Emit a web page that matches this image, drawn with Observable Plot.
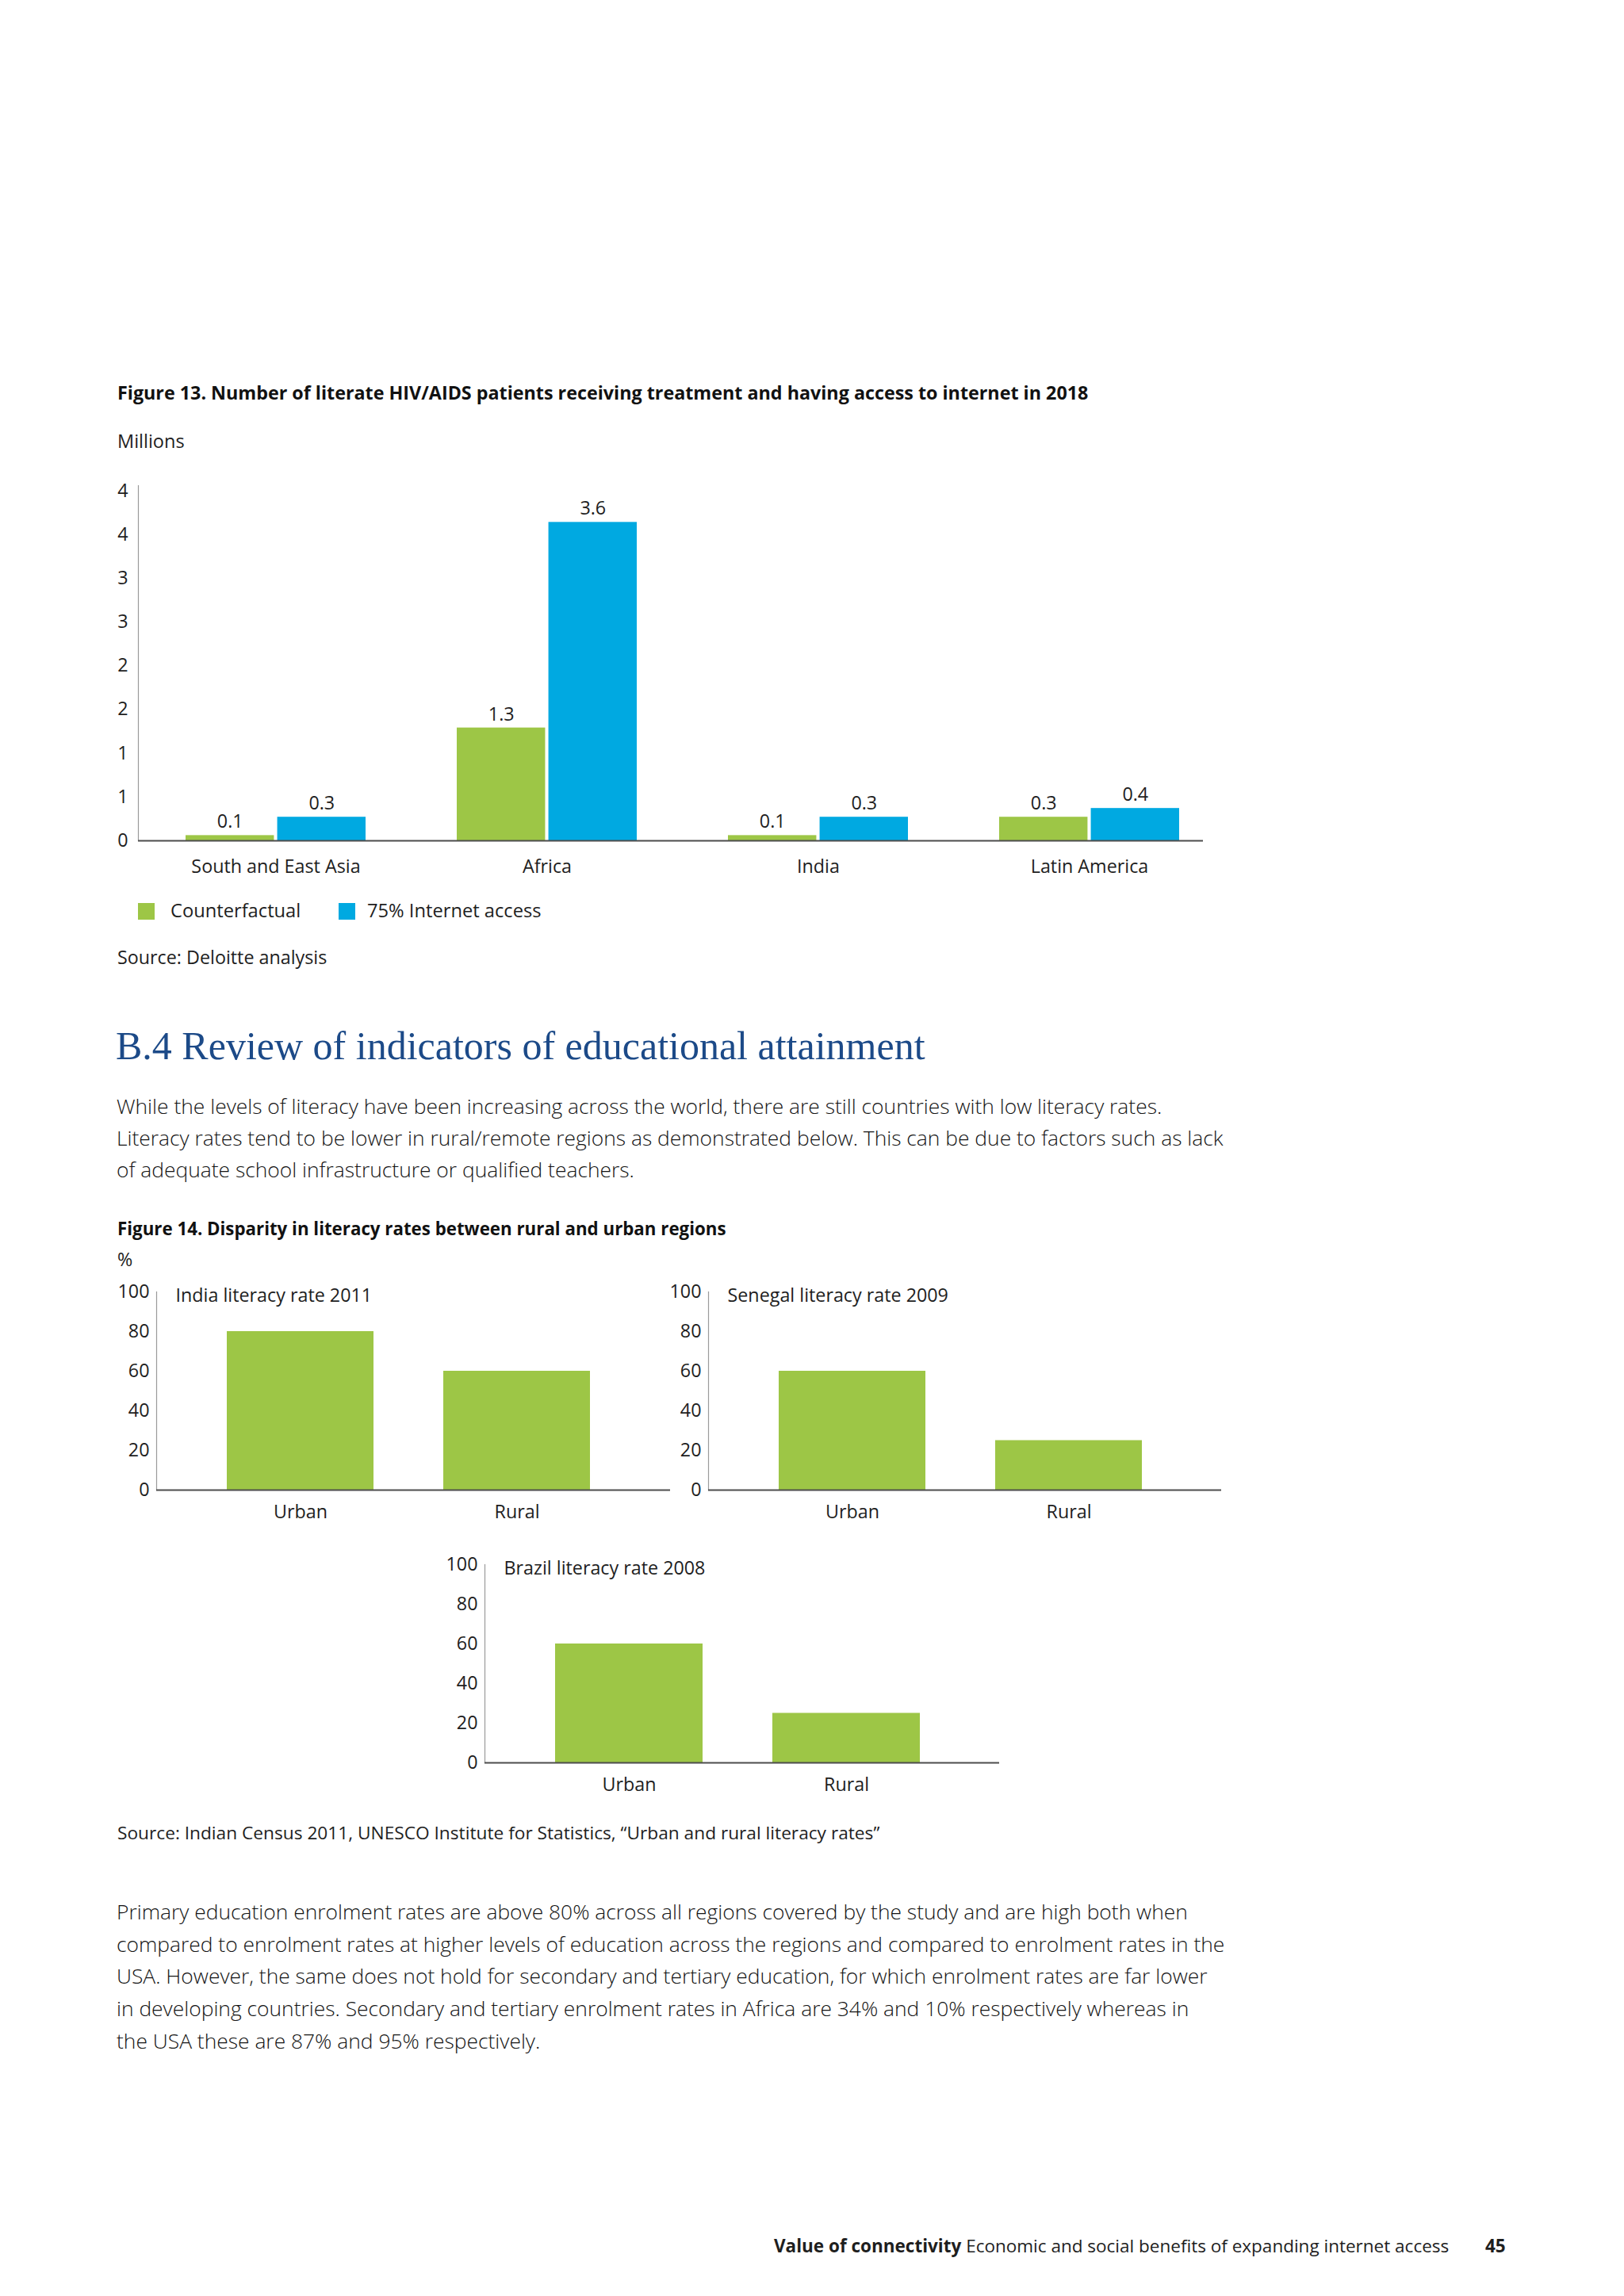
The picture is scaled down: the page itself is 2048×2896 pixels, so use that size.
<!DOCTYPE html>
<html>
<head>
<meta charset="utf-8">
<script src="https://cdn.jsdelivr.net/npm/d3@7"></script>
<script src="https://cdn.jsdelivr.net/npm/@observablehq/plot@0.6"></script>
<style>
html, body { margin: 0; padding: 0; background: #ffffff; }
#page { position: relative; width: 2048px; height: 2896px; background: #ffffff; overflow: hidden;
  font-family: "Open Sans", "Noto Sans", sans-serif; color: #1e1e1e; }
.t { position: absolute; white-space: nowrap; z-index: 2; }
.sq { position: absolute; z-index: 2; }
</style>
</head>
<body>
<div id="page"></div>
<script>
// ---------- Data ----------
const regions = ["South and East Asia", "Africa", "India", "Latin America"];
const seriesNames = ["Counterfactual", "75% Internet access"];
const counterfactual = [0.06, 1.29, 0.06, 0.27];
const internetAccess = [0.27, 3.64, 0.27, 0.37];
const yTicks13 = [0, 0.5, 1, 1.5, 2, 2.5, 3, 3.5, 4];

const literacyCategories = ["Urban", "Rural"];
const indiaLiteracy = [80, 60];
const senegalLiteracy = [60, 25];
const brazilLiteracy = [60, 25];
const yTicks14 = [0, 20, 40, 60, 80, 100];

// ---------- Styles ----------
const GREEN = "#9dc646";
const BLUE = "#00a9e1";
const AXIS_LIGHT = "#9a9a9a";
const AXIS_DARK = "#4d4d4d";
const FONT = '"Open Sans", "Noto Sans", sans-serif';
const CHART_FS = 23.3;

const page = document.getElementById("page");

function addText(str, x, y, size, opts = {}) {
  const d = document.createElement("div");
  d.className = "t";
  d.textContent = str;
  const lh = size * 1.2;
  d.style.left = x + "px";
  d.style.top = (y - size * (opts.serif ? 0.62 : 0.64)) + "px";
  d.style.fontSize = size + "px";
  d.style.lineHeight = lh + "px";
  if (opts.weight) d.style.fontWeight = opts.weight;
  if (opts.color) d.style.color = opts.color;
  if (opts.family) d.style.fontFamily = opts.family;
  page.appendChild(d);
  return d;
}
function addRich(parts, x, y, size) {
  const d = document.createElement("div");
  d.className = "t";
  d.style.left = x + "px";
  d.style.top = (y - size * 0.64) + "px";
  d.style.fontSize = size + "px";
  d.style.lineHeight = size * 1.2 + "px";
  for (const p of parts) {
    const s = document.createElement("span");
    s.textContent = p.text;
    if (p.weight) s.style.fontWeight = p.weight;
    d.appendChild(s);
  }
  page.appendChild(d);
}
function addSquare(x, y, w, h, color) {
  const d = document.createElement("div");
  d.className = "sq";
  Object.assign(d.style, { left: x + "px", top: y + "px", width: w + "px", height: h + "px", background: color });
  page.appendChild(d);
}
function place(svg, left, top) {
  svg.style.position = "absolute";
  svg.style.left = left + "px";
  svg.style.top = top + "px";
  svg.style.maxWidth = "none";
  svg.style.zIndex = 1;
  page.appendChild(svg);
}

// ---------- Figure 13 ----------
addText("Figure 13. Number of literate HIV/AIDS patients receiving treatment and having access to internet in 2018", 148, 497, 23.3, { weight: 700, color: "#111" });
addText("Millions", 148, 557, 23.5);

const F13 = { left: 174, right: 1517, top: 612, bottom: 1060 };
const svgTop13 = 560, svgH13 = 600;
const xOpts13 = { paddingInner: 0.336, paddingOuter: 0.131, align: 0.67 };
const bw13 = d3.scaleBand().domain(regions).range([F13.left, F13.right])
  .paddingInner(xOpts13.paddingInner).paddingOuter(xOpts13.paddingOuter).align(xOpts13.align).bandwidth();
const rows13 = regions.map((r, i) => ({ region: r, counterfactual: counterfactual[i], internet: internetAccess[i] }));

const fig13 = Plot.plot({
  width: 2048,
  height: svgH13,
  marginLeft: F13.left,
  marginRight: 2048 - F13.right,
  marginTop: F13.top - svgTop13,
  marginBottom: svgTop13 + svgH13 - F13.bottom,
  style: { fontFamily: FONT, fontSize: CHART_FS + "px", color: "#1e1e1e", background: "transparent" },
  x: { domain: regions, ...xOpts13 },
  y: { domain: [0, 4.06] },
  marks: [
    Plot.barY(rows13, { x: "region", y: "counterfactual", fill: GREEN, insetRight: bw13 / 2 + 2 }),
    Plot.barY(rows13, { x: "region", y: "internet", fill: BLUE, insetLeft: bw13 / 2 + 2 }),
    Plot.text(rows13, { x: "region", y: "counterfactual", text: d => d.counterfactual.toFixed(1), dx: -(bw13 / 4 + 1), dy: -17, lineAnchor: "middle", fill: "#1e1e1e" }),
    Plot.text(rows13, { x: "region", y: "internet", text: d => d.internet.toFixed(1), dx: bw13 / 4 + 1, dy: -17, lineAnchor: "middle", fill: "#1e1e1e" }),
    Plot.axisY({ ticks: yTicks13, tickFormat: d => d.toFixed(0), tickSize: 0, tickPadding: 13, label: null }),
    Plot.axisX({ tickSize: 0, tickPadding: 24, label: null }),
    Plot.frame({ anchor: "left", stroke: AXIS_LIGHT, strokeWidth: 1.2 }),
    Plot.ruleY([0], { stroke: AXIS_DARK, strokeWidth: 2 })
  ]
});
place(fig13, 0, svgTop13);

// legend
addSquare(174, 1139, 21, 21, GREEN);
addText(seriesNames[0], 215, 1149, 23.7);
addSquare(427, 1139, 21, 21, BLUE);
addText(seriesNames[1], 463, 1149, 23.7);

addText("Source: Deloitte analysis", 148, 1209, 23.3, { weight: 500 });

// ---------- Section heading & paragraph ----------
addText("B.4 Review of indicators of educational attainment", 146, 1320, 50, { serif: true, family: '"Liberation Serif", "DejaVu Serif", serif', color: "#1c4a88" });

const para1 = [
  "While the levels of literacy have been increasing across the world, there are still countries with low literacy rates.",
  "Literacy rates tend to be lower in rural/remote regions as demonstrated below. This can be due to factors such as lack",
  "of adequate school infrastructure or qualified teachers."
];
const para1Y = [1397, 1437, 1477];
para1.forEach((s, i) => addText(s, 147, para1Y[i], 26.4, { weight: 300, color: "#141414" }));

// ---------- Figure 14 ----------
addText("Figure 14. Disparity in literacy rates between rural and urban regions", 148, 1551, 22.3, { weight: 700, color: "#111" });
addText("%", 148, 1590, 23.3);

function literacyChart(title, values, frame) {
  const data = literacyCategories.map((c, i) => ({ category: c, value: values[i] }));
  const padL = 90, padR = 20, padT = 30, padB = 70;
  const svg = Plot.plot({
    width: frame.right - frame.left + padL + padR,
    height: frame.bottom - frame.top + padT + padB,
    marginLeft: padL, marginRight: padR, marginTop: padT, marginBottom: padB,
    style: { fontFamily: FONT, fontSize: CHART_FS + "px", color: "#1e1e1e", background: "transparent" },
    x: { domain: literacyCategories, paddingInner: 0.321, paddingOuter: 0.343, align: 0.47 },
    y: { domain: [0, 100] },
    marks: [
      Plot.barY(data, { x: "category", y: "value", fill: GREEN }),
      Plot.axisY({ ticks: yTicks14, tickSize: 0, tickPadding: 9, label: null }),
      Plot.axisX({ tickSize: 0, tickPadding: 19, label: null }),
      Plot.frame({ anchor: "left", stroke: AXIS_LIGHT, strokeWidth: 1.2 }),
      Plot.ruleY([0], { stroke: AXIS_DARK, strokeWidth: 2 }),
      Plot.text([title], { text: d => d, frameAnchor: "top-left", dx: 24, dy: 5, textAnchor: "start", lineAnchor: "middle", fill: "#1e1e1e" })
    ]
  });
  place(svg, frame.left - padL, frame.top - padT);
}

literacyChart("India literacy rate 2011", indiaLiteracy, { left: 197, right: 845, top: 1629, bottom: 1879 });
literacyChart("Senegal literacy rate 2009", senegalLiteracy, { left: 893, right: 1540, top: 1629, bottom: 1879 });
literacyChart("Brazil literacy rate 2008", brazilLiteracy, { left: 611, right: 1260, top: 1973, bottom: 2223 });

addText("Source: Indian Census 2011, UNESCO Institute for Statistics, \u201CUrban and rural literacy rates\u201D", 148, 2313, 22.7, { weight: 500 });

// ---------- Paragraph 2 ----------
const para2 = [
  "Primary education enrolment rates are above 80% across all regions covered by the study and are high both when",
  "compared to enrolment rates at higher levels of education across the regions and compared to enrolment rates in the",
  "USA. However, the same does not hold for secondary and tertiary education, for which enrolment rates are far lower",
  "in developing countries. Secondary and tertiary enrolment rates in Africa are 34% and 10% respectively whereas in",
  "the USA these are 87% and 95% respectively."
];
const para2Y = [2413, 2454, 2494, 2535, 2576];
para2.forEach((s, i) => addText(s, 147, para2Y[i], 26.4, { weight: 300, color: "#141414" }));

// ---------- Footer ----------
addRich([{ text: "Value of connectivity", weight: 700 }, { text: " Economic and social benefits of expanding internet access" }], 976, 2833, 22.5);
addText("45", 1873, 2833, 22.5, { weight: 700 });
</script>
</body>
</html>
